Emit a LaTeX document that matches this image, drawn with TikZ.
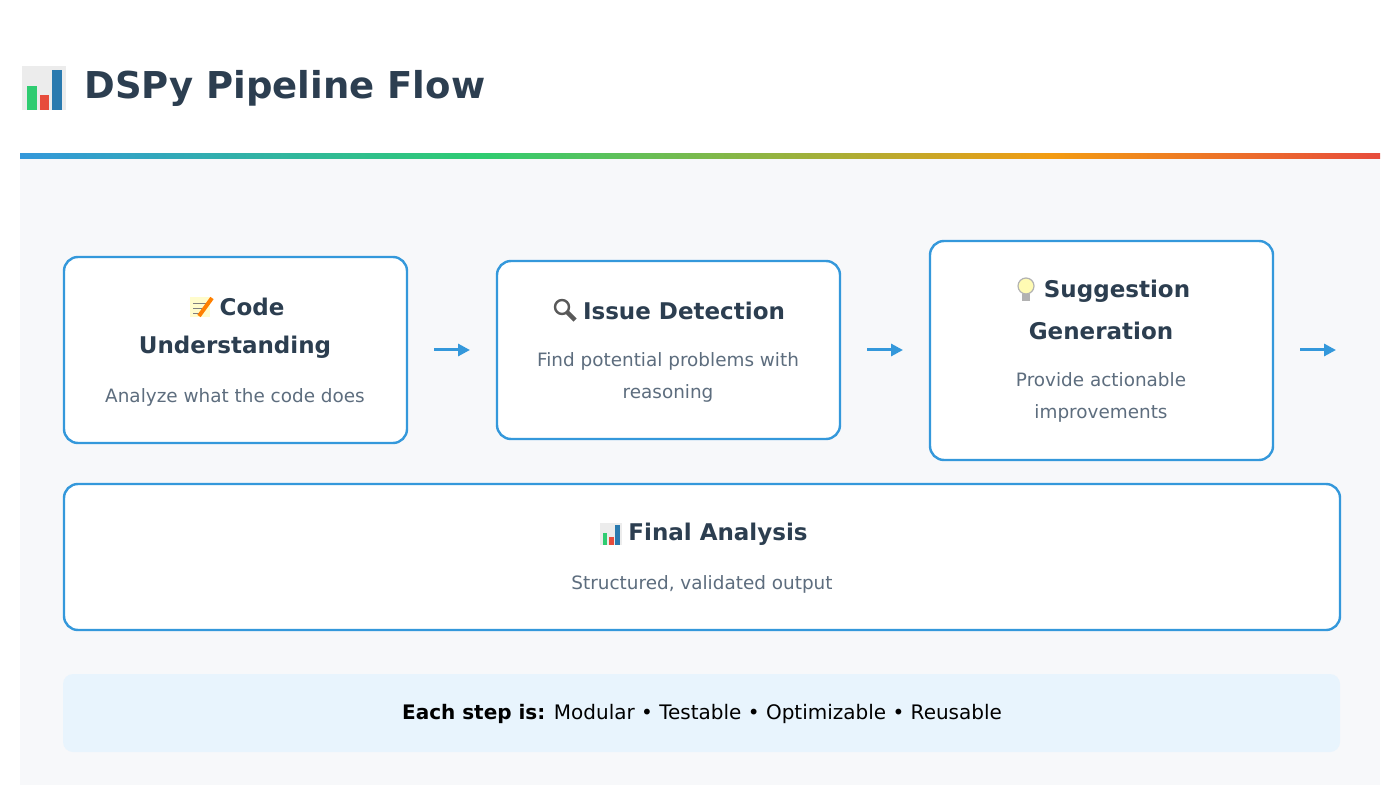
\documentclass[tikz,border=0pt]{standalone}
\usepackage{fontspec}
\setmainfont{DejaVu Sans}
\usetikzlibrary{positioning,arrows.meta}
\definecolor{flowblue}{HTML}{3498DB}
\definecolor{navy}{HTML}{2C3E50}
\definecolor{descgray}{HTML}{5D6D7E}
\definecolor{panelbg}{HTML}{F7F8FA}
\definecolor{noteb}{HTML}{E8F4FD}
\definecolor{barg}{HTML}{2ECC71}
\definecolor{baro}{HTML}{F39C12}
\definecolor{barr}{HTML}{E74C3C}

\begin{document}
\begin{tikzpicture}[
	x=0.5pt, y=-0.5pt,
	stage/.style={draw=flowblue, line width=1.2pt, fill=white, rounded corners=7pt},
	ttl/.style={font=\fontsize{11.5}{14}\selectfont\bfseries, text=navy, inner sep=0},
	desc/.style={font=\fontsize{9.2}{16}\selectfont, text=descgray, align=center, inner sep=0},
	flow/.style={-{Triangle[length=6pt,width=6pt]}, draw=flowblue, line width=1.5pt, shorten >=13.5pt, shorten <=13.5pt}
]
	\useasboundingbox (0,0) rectangle (1400,785);
	\fill[white] (0,0) rectangle (1400,785);

	% chart icon
	\def\chart#1#2#3{%
		\fill[gray!15] (#1,#2) rectangle ++(#3,-#3);
		\fill[barg] (#1+0.12*#3,#2) rectangle ++(0.22*#3,-0.55*#3);
		\fill[barr] (#1+0.4*#3,#2) rectangle ++(0.22*#3,-0.35*#3);
		\fill[flowblue!80!black] (#1+0.68*#3,#2) rectangle ++(0.22*#3,-0.9*#3);
	}
	\chart{22}{110}{44}
	\node[anchor=west, font=\fontsize{18.5}{24}\selectfont\bfseries, text=navy, inner sep=0] (title) at (84,88) {DSPy Pipeline Flow};

	% panel
	\fill[panelbg] (20,158) rectangle (1380,785);
	\shade[left color=flowblue, right color=barg] (20,154) rectangle (480,159);
	\shade[left color=barg, right color=baro] (480,154) rectangle (1050,159);
	\shade[left color=baro, right color=barr] (1050,154) rectangle (1380,159);

	% stages
	\draw[stage] (64,257) rectangle (407,443);
	\draw[stage] (497,261) rectangle (840,439);
	\draw[stage] (930,241) rectangle (1273,460);
	\draw[stage] (64,484) rectangle (1340,630);
	\path (407,350) coordinate (b1) (497,350) coordinate (b2w) (840,350) coordinate (b2)
		(930,350) coordinate (b3w) (1273,350) coordinate (b3) (1363,350) coordinate (next);

	\node[ttl] (t1) at (252,307) {Code};
	\node[ttl] (t1b) at (235,347) {Understanding};
	\node[desc] (d1) at (235,397) {Analyze what the code does};
	\node[ttl] (t2) at (684,311) {Issue Detection};
	\node[desc] (d2) at (668,377) {Find potential problems with\\reasoning};
	\node[ttl] (t3) at (1117,291) {Suggestion};
	\node[ttl] (t3b) at (1101,331) {Generation};
	\node[desc] (d3) at (1101,397) {Provide actionable\\improvements};
	\node[ttl] (t4) at (718,534) {Final Analysis};
	\node[desc] (d4) at (702,584) {Structured, validated output};

	% icons
	\fill[yellow!20] (190,297) rectangle (210,317);
	\draw[gray, line width=0.4pt] (193,303) -- (206,303) (193,308) -- (206,308) (193,313) -- (202,313);
	\draw[orange, line width=2pt] (199,316) -- (212,298);
	\draw[gray!70!black, line width=1.2pt] (562,307) circle (7);
	\draw[gray!70!black, line width=2.2pt] (567,312) -- (575,320);
	\fill[yellow!30] (1026,286) circle (8);
	\draw[gray!60, line width=0.6pt] (1026,286) circle (8);
	\fill[gray!60] (1022,294) rectangle (1030,301);
	\chart{600}{545}{22}

	% arrows
	\draw[flow] (b1) -- (b2w);
	\draw[flow] (b2) -- (b3w);
	\draw[flow] (b3) -- (next);

	% note
	\fill[noteb, rounded corners=5pt] (63,674) rectangle (1340,752);
	\node[font=\fontsize{10}{13}\selectfont, inner sep=0] (note) at (702,714) {\textbf{Each step is:} Modular • Testable • Optimizable • Reusable};
\end{tikzpicture}
\end{document}
